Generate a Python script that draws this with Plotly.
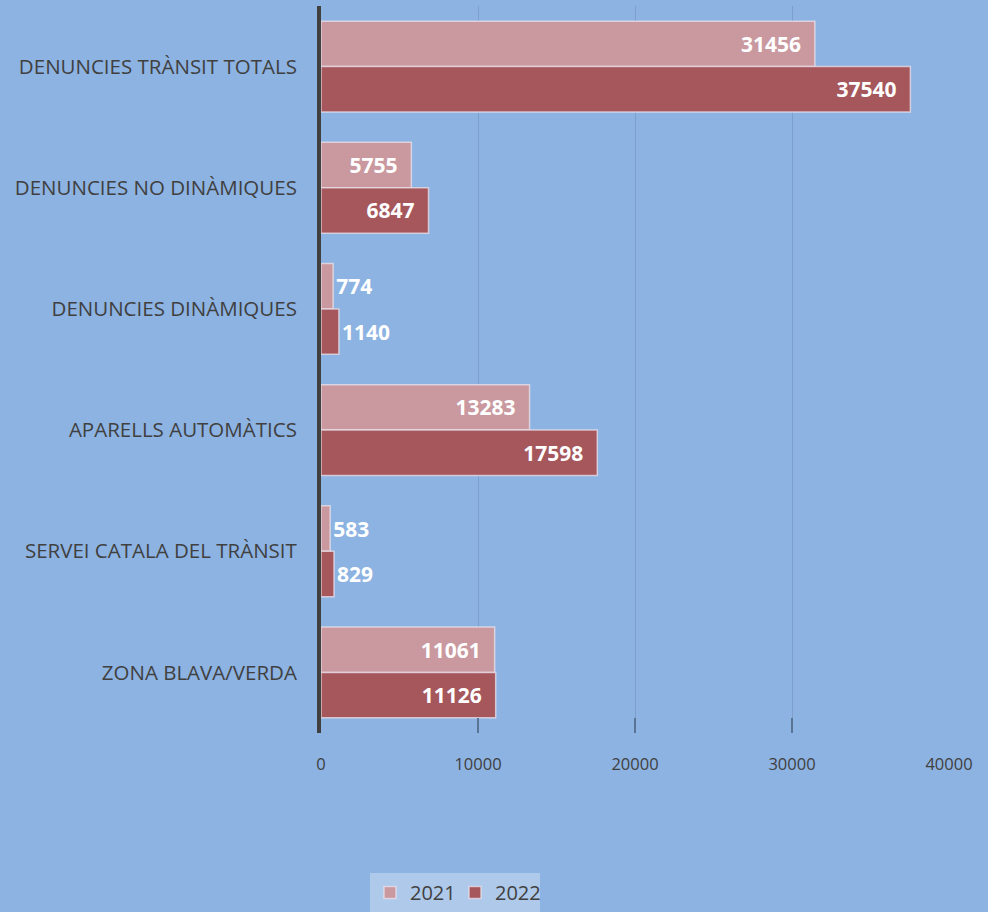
import plotly.graph_objects as go

categories = ["DENUNCIES TRÀNSIT TOTALS", "DENUNCIES NO DINÀMIQUES", "DENUNCIES DINÀMIQUES",
              "APARELLS AUTOMÀTICS", "SERVEI CATALA DEL TRÀNSIT", "ZONA BLAVA/VERDA"]
values_2021 = [31456, 5755, 774, 13283, 583, 11061]
values_2022 = [37540, 6847, 1140, 17598, 829, 11126]
tick_vals = [0, 10000, 20000, 30000, 40000]

BG = "#8DB3E2"
FONT = "Open Sans"
PAD = "\u00a0\u00a0"

fig = go.Figure()
for name, vals, col in [("2021", values_2021, "#C9999F"), ("2022", values_2022, "#A5575C")]:
    fig.add_trace(go.Bar(
        y=categories, x=vals, name=name, orientation="h",
        marker=dict(color=col, line=dict(color="rgba(235,225,235,0.75)", width=1.5)),
        text=[str(v) + PAD for v in vals], textposition="auto", insidetextanchor="end",
        insidetextfont=dict(family=FONT, size=21, color="white", weight="bold"),
        outsidetextfont=dict(family=FONT, size=21, color="white", weight="bold"),
        textangle=0, cliponaxis=False,
    ))

fig.update_layout(
    width=988, height=912,
    paper_bgcolor=BG, plot_bgcolor=BG,
    margin=dict(l=321, r=39, t=6, b=179, autoexpand=False),
    barmode="group", bargap=0.25, bargroupgap=0,
    font=dict(family=FONT, size=20, color="#404040"),
    xaxis=dict(range=[0, 40000], tickvals=tick_vals, ticktext=[str(t) for t in tick_vals],
               showgrid=True, gridcolor="rgba(110,140,180,0.5)", gridwidth=1.2,
               ticks="inside", ticklen=15, tickcolor="#5A7594", tickwidth=1.5,
               ticklabelstandoff=19, zeroline=False, showline=False,
               tickfont=dict(family=FONT, size=16.5, color="#404040")),
    yaxis=dict(autorange="reversed", showline=True, linecolor="#404040", linewidth=4,
               ticks="", ticklabelstandoff=16, showgrid=False,
               tickfont=dict(family=FONT, size=20.5, color="#404040")),
    legend=dict(orientation="h", xref="container", x=455 / 988, xanchor="center",
                yref="container", y=-0.002, yanchor="bottom",
                bgcolor="rgba(215,228,245,0.45)", traceorder="normal",
                font=dict(family=FONT, size=20, color="#404040"),
                itemwidth=30, entrywidth=40),
    showlegend=True,
)

fig.write_html("out.html", config={"displayModeBar": False},
               post_script="document.body.style.margin='0';document.body.style.padding='0';")
